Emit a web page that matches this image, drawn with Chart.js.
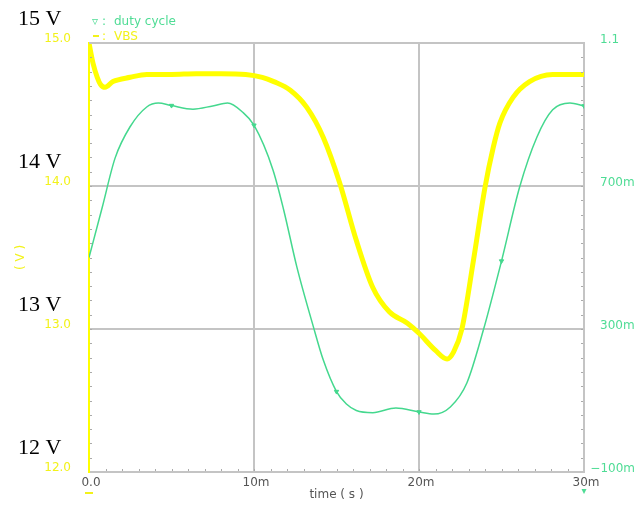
<!DOCTYPE html>
<html>
<head>
<meta charset="utf-8">
<title>VBS and duty cycle</title>
<script src="https://cdn.jsdelivr.net/npm/chart.js@4/dist/chart.umd.min.js"></script>
<style>
  html, body { margin: 0; padding: 0; background: #ffffff; }
  #plot { display: block; }
</style>
</head>
<body>
<canvas id="plot" width="636" height="506"></canvas>
<script>
// ---- data ----
// VBS trace (time in ms, volts)
const vbsTime  = [0, 0.24, 0.5, 0.7, 0.97, 1.45, 2.5, 3.5, 5.0, 6.5, 8.0, 9.5, 10.5, 11.2, 12.2, 13.2, 14.2, 15.2, 16.2, 17.2, 18.2, 19.3, 20.0, 21.0, 21.7, 22.1, 22.6, 23.3, 24.0, 24.5, 24.9, 25.7, 26.7, 28.1, 30.0];
const vbsVolts = [15.0, 14.86, 14.76, 14.71, 14.69, 14.73, 14.76, 14.78, 14.78, 14.785, 14.785, 14.78, 14.76, 14.73, 14.67, 14.55, 14.34, 14.02, 13.62, 13.29, 13.12, 13.04, 12.97, 12.85, 12.79, 12.84, 13.0, 13.48, 13.99, 14.27, 14.44, 14.62, 14.73, 14.78, 14.78];

// duty cycle trace (time in ms, fraction)
const dutyTime  = [0, 0.8, 1.58, 2.48, 3.5, 4.2, 5.0, 6.3, 7.5, 8.4, 9.3, 10.0, 11.15, 11.8, 12.6, 13.6, 14.2, 15.0, 15.6, 16.2, 17.2, 18.6, 20.0, 20.9, 21.9, 22.9, 23.9, 25.0, 26.1, 27.15, 28.1, 29.15, 30.0];
const dutyValue = [0.50, 0.64, 0.778, 0.865, 0.921, 0.932, 0.925, 0.915, 0.924, 0.932, 0.907, 0.87, 0.745, 0.633, 0.473, 0.306, 0.213, 0.125, 0.09, 0.072, 0.066, 0.079, 0.068, 0.062, 0.082, 0.149, 0.297, 0.49, 0.697, 0.837, 0.913, 0.932, 0.924];

// axis ticks and labels
const timeTickLabels = ['0.0', '10m', '20m', '30m'];
const vbsTickLabels  = ['12.0', '13.0', '14.0', '15.0'];
const dutyTickValues = [-0.1, 0.3, 0.7, 1.1];
const dutyTickLabels = ['\u2212100m', '300m', '700m', '1.1'];
const voltCaptionValues = [15, 14, 13, 12];

// ---- styling ----
const YELLOW = '#ffff00';
const YELLOW_TEXT = '#f2f21a';
const GREEN = '#44d88e';
const GREEN_TEXT = '#4fdc95';
const GRID = '#c4c4c4';
const TICK_TEXT = '#555555';
const FONT = 'DejaVu Sans';

Chart.defaults.font.family = FONT;
Chart.defaults.font.size = 12;

const isMarkerTime = t => t > 0 && Math.abs(t / 5 - Math.round(t / 5)) < 1e-9;
const innerGrid = ctx => (ctx.index === 0 || ctx.index === ctx.scale.ticks.length - 1) ? 'rgba(0,0,0,0)' : GRID;

// extra drawing: frame, minor ticks, legend, captions, right-hand labels
const decorations = {
  id: 'decorations',
  afterDraw(chart) {
    const { ctx, chartArea: a, scales } = chart;
    const x = scales.x, y = scales.y, y2 = scales.y2;
    ctx.save();

    // top frame edge
    ctx.strokeStyle = GRID;
    ctx.lineWidth = 2;
    ctx.beginPath();
    ctx.moveTo(a.left, a.top);
    ctx.lineTo(a.right, a.top);
    ctx.stroke();

    // minor tick marks drawn inside the frame
    ctx.strokeStyle = '#aaaaaa';
    ctx.lineWidth = 1;
    ctx.beginPath();
    for (let v = 12.1; v < 14.95; v += 0.1) {
      const py = Math.round(y.getPixelForValue(v)) + 0.5;
      ctx.moveTo(a.left + 1, py); ctx.lineTo(a.left + 3, py);
    }
    for (let i = 1; i < 30; i++) {
      const d = -0.1 + i * 0.04;
      const py = Math.round(y2.getPixelForValue(d)) + 0.5;
      ctx.moveTo(a.right - 3, py); ctx.lineTo(a.right - 1, py);
    }
    for (let t = 1; t < 30; t++) {
      const px = Math.round(x.getPixelForValue(t)) + 0.5;
      ctx.moveTo(px, a.bottom - 3); ctx.lineTo(px, a.bottom - 1);
    }
    ctx.stroke();

    // legend
    ctx.font = '12px "' + FONT + '"';
    ctx.textBaseline = 'alphabetic';
    ctx.textAlign = 'left';
    ctx.fillStyle = GREEN_TEXT;
    ctx.fillText('\u25BF', 92, 25);
    ctx.fillText(':', 102, 25);
    ctx.fillText('duty cycle', 114, 25);
    ctx.fillStyle = YELLOW_TEXT;
    ctx.fillRect(93, 35, 6, 2);
    ctx.fillText(':', 102, 40);
    ctx.fillText('VBS', 114, 40);

    // right-hand duty cycle labels, kept inside the canvas
    ctx.fillStyle = GREEN_TEXT;
    ctx.textBaseline = 'middle';
    dutyTickValues.forEach((v, i) => {
      const label = dutyTickLabels[i];
      const w = ctx.measureText(label).width;
      const px = Math.min(a.right + 16, chart.width - 1 - w);
      ctx.fillText(label, px, y2.getPixelForValue(v) - 3);
    });

    // trace identifiers under the time axis
    ctx.fillStyle = YELLOW_TEXT;
    ctx.fillRect(a.left - 4, a.bottom + 20, 8, 2);
    ctx.fillStyle = GREEN_TEXT;
    ctx.textAlign = 'center';
    ctx.font = '10px "' + FONT + '"';
    ctx.fillText('\u25BE', a.right, a.bottom + 19);

    // voltage captions
    ctx.fillStyle = '#000000';
    ctx.font = '22px "Liberation Serif"';
    ctx.textAlign = 'left';
    ctx.textBaseline = 'alphabetic';
    voltCaptionValues.forEach(v => {
      ctx.fillText(v + ' V', 18, y.getPixelForValue(v) - 18);
    });

    ctx.restore();
  }
};

new Chart(document.getElementById('plot'), {
  type: 'line',
  data: {
    datasets: [
      {
        label: 'VBS',
        data: vbsTime.map((t, i) => ({ x: t, y: vbsVolts[i] })),
        yAxisID: 'y',
        borderColor: YELLOW,
        borderWidth: 5,
        pointRadius: 0,
        cubicInterpolationMode: 'monotone',
        fill: false
      },
      {
        label: 'duty cycle',
        data: dutyTime.map((t, i) => ({ x: t, y: dutyValue[i] })),
        yAxisID: 'y2',
        borderColor: GREEN,
        backgroundColor: GREEN,
        borderWidth: 1.5,
        cubicInterpolationMode: 'monotone',
        pointStyle: 'triangle',
        rotation: 180,
        pointRadius: ctx => (ctx.raw && isMarkerTime(ctx.raw.x)) ? 2.5 : 0,
        pointBorderWidth: 1,
        fill: false
      }
    ]
  },
  options: {
    responsive: false,
    animation: false,
    devicePixelRatio: 1,
    layout: { padding: { top: 43, left: 0, right: 0, bottom: 0 } },
    plugins: {
      legend: { display: false },
      tooltip: { enabled: false }
    },
    scales: {
      x: {
        type: 'linear',
        min: 0,
        max: 30,
        ticks: {
          stepSize: 10,
          color: TICK_TEXT,
          padding: 4,
          labelOffset: 2,
          maxRotation: 0,
          callback: (v, i) => timeTickLabels[i]
        },
        grid: { color: innerGrid, lineWidth: 2, drawTicks: false },
        border: { display: true, color: GRID, width: 2 },
        title: {
          display: true,
          text: 'time ( s )',
          color: TICK_TEXT,
          font: { size: 12 },
          padding: { top: 4, bottom: 4 }
        },
        afterFit: s => { s.height = 34; }
      },
      y: {
        position: 'left',
        min: 12,
        max: 15,
        ticks: {
          stepSize: 1,
          color: YELLOW_TEXT,
          padding: 18,
          labelOffset: -4,
          callback: (v, i) => vbsTickLabels[i]
        },
        grid: { color: innerGrid, lineWidth: 2, drawTicks: false },
        border: { display: true, color: YELLOW, width: 2 },
        title: {
          display: true,
          text: '( V )',
          color: YELLOW_TEXT,
          font: { size: 12 },
          padding: { top: 14, bottom: 14 }
        },
        afterFit: s => { s.width = 89; }
      },
      y2: {
        position: 'right',
        min: -0.1,
        max: 1.1,
        afterBuildTicks: s => { s.ticks = dutyTickValues.map(v => ({ value: v })); },
        ticks: { display: false },
        grid: { display: false, drawTicks: false },
        border: { display: true, color: GRID, width: 2 },
        afterFit: s => { s.width = 52; }
      }
    }
  },
  plugins: [decorations]
});
</script>
</body>
</html>
